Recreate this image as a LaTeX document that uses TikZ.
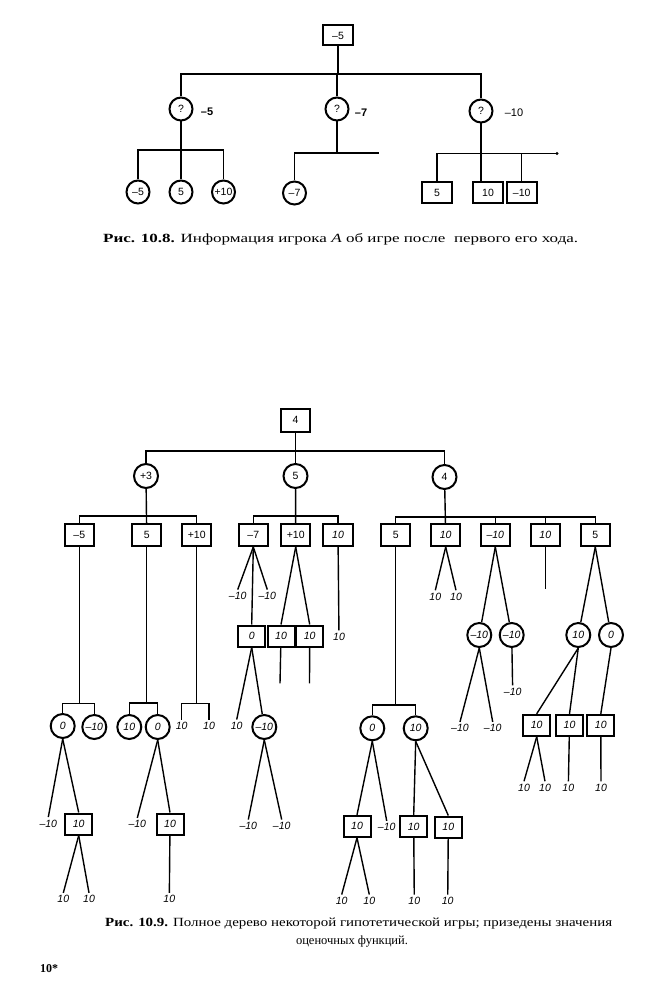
\documentclass[tikz,border=0pt]{standalone}
\usepackage{fontspec}
\usepackage{graphicx}
\setmainfont{Liberation Serif}
\newfontfamily\lab{Liberation Sans}
\newcommand\nf{\lab\fontsize{10.5}{11}\selectfont}
\newcommand\nfi{\lab\itshape\fontsize{10.5}{11}\selectfont}
\tikzset{
  ed/.style={line width=1.4pt},
  nbox/.style={draw, line width=2pt, minimum width=30pt, minimum height=20pt, inner sep=0pt, font=\nf},
  bbox/.style={nbox, minimum width=29.5pt, minimum height=22pt},
  sbox/.style={nbox, minimum width=27pt, minimum height=21pt, font=\nfi},
  ncirc/.style={draw, circle, line width=2pt, minimum size=23pt, inner sep=0pt, font=\nf},
  bcirc/.style={ncirc, minimum size=24pt},
  icirc/.style={bcirc, font=\nfi},
  lbl/.style={inner sep=2.5pt, font=\nfi},
  tlbl/.style={inner sep=1pt, font=\lab\bfseries\fontsize{11}{12}\selectfont},
  captxt/.style={inner sep=0pt, anchor=base west}
}
\begin{document}
\begin{tikzpicture}[x=1pt,y=-1pt]
\useasboundingbox (0,0) rectangle (661,1000);
% ---------- Fig 10.8 ----------
\node[nbox] (r) at (338,35.5) {–5};
\coordinate (b0) at (338,74);
\node[ncirc] (q1) at (181,109) {?};
\node[ncirc] (q2) at (337,109) {?};
\node[ncirc] (q3) at (481,111) {?};
\node[tlbl] (v1) at (207,112) {–5};
\node[tlbl] (v2) at (361,113) {–7};
\node[tlbl, font=\lab\fontsize{11}{12}\selectfont] (v3) at (514,113) {–10};
\draw[ed] (r) -- (b0);
\draw[ed] (q1) |- (b0) -| (q3);
\draw[ed] (q2) -- (q2 |- b0);
% left group
\coordinate (b1) at (181,150);
\node[ncirc] (l1) at (138,192) {–5};
\node[ncirc] (l2) at (181,192) {5};
\node[ncirc] (l3) at (223.5,192) {+10};
\draw[ed] (q1) -- (l2);
\draw[ed] (l1) |- (b1) -| (l3);
% middle group
\coordinate (b2) at (379,153);
\node[ncirc] (l4) at (294.5,193) {–7};
\draw[ed] (q2) -- (q2 |- b2);
\draw[ed] (l4) |- (b2);
% right group
\coordinate (b3) at (557,153.5);
\node[nbox, minimum height=21pt] (t1) at (437,192.5) {5};
\node[nbox, minimum height=21pt] (t2) at (488,192.5) {10};
\node[nbox, minimum height=21pt] (t3) at (521.7,192.5) {–10};
\draw[ed] (t1) |- (b3);
\draw[ed] (q3) -- (q3 |- t2.north);
\draw[ed] (t3) -- (t3 |- b3);
\fill (b3) circle (1.6pt);
\node[captxt] (cap1) at (103,242) {\resizebox{475pt}{\height}{\fontsize{12.5}{14}\selectfont\textbf{Рис. 10.8.} Информация игрока \textit{А} об игре после\ \ первого его хода.}};
% ---------- Fig 10.9 ----------
\node[bbox, minimum height=23pt] (R) at (295.5,420) {4};
\coordinate (B0) at (295.5,451);
\node[bcirc] (C1) at (146,476) {+3};
\node[bcirc] (C2) at (295.5,476) {5};
\node[bcirc] (C3) at (444.5,477) {4};
\draw[ed] (R) -- (C2);
\draw[ed] (C1) |- (B0) -| (C3);
% level 2
\node[bbox] (D1) at (79.3,535) {–5};
\node[bbox] (D2) at (146.7,535) {5};
\node[bbox] (D3) at (196.7,535) {+10};
\coordinate (B1) at (146,516);
\draw[ed] (C1) -- (D2);
\draw[ed] (D1) |- (B1) -| (D3);
\node[bbox] (D4) at (253.3,535) {–7};
\node[bbox] (D5) at (295.7,535) {+10};
\node[bbox, font=\nfi] (D6) at (338,535) {10};
\coordinate (B2) at (295.5,516);
\draw[ed] (C2) -- (D5);
\draw[ed] (D4) |- (B2) -| (D6);
\node[bbox] (D7) at (395.7,535) {5};
\node[bbox, font=\nfi] (D8) at (445.7,535) {10};
\node[bbox, font=\nfi] (D9) at (495.3,535) {–10};
\node[bbox, font=\nfi] (D10) at (545.3,535) {10};
\node[bbox] (D11) at (595.3,535) {5};
\coordinate (B3) at (444.5,517);
\draw[ed] (C3) -- (D8);
\draw[ed] (D7) |- (B3) -| (D11);
\draw[ed] (D9) -- (D9 |- B3);
\draw[ed] (D10) -- (D10 |- B3);
% D1 subtree
\coordinate (B4) at (79.3,703.3);
\node[icirc] (E1) at (62.7,726) {0};
\node[icirc] (E2) at (94.3,727) {–10};
\draw[ed] (D1) -- (B4);
\draw[ed] (E1) |- (B4) -| (E2);
\node[lbl] (F1) at (48.3,823.5) {–10};
\node[sbox] (F2) at (78.7,824) {10};
\draw[ed] (E1.south) -- (F1.north);
\draw[ed] (E1.south) -- (F2.north);
\node[lbl] (G1) at (63.3,899.3) {10};
\node[lbl] (G2) at (89,899.3) {10};
\draw[ed] (F2.south) -- (G1.north);
\draw[ed] (F2.south) -- (G2.north);
% D2 subtree
\coordinate (B5) at (146.7,703);
\node[icirc] (E3) at (129.3,727) {10};
\node[icirc] (E4) at (157.7,727) {0};
\draw[ed] (D2) -- (B5);
\draw[ed] (E3) |- (B5) -| (E4);
\node[lbl] (F3) at (137.3,824.3) {–10};
\node[sbox] (F4) at (170,824) {10};
\draw[ed] (E4.south) -- (F3.north);
\draw[ed] (E4.south) -- (F4.north);
\node[lbl] (G3) at (169.3,899.3) {10};
\draw[ed] (F4) -- (G3);
% D3 subtree
\coordinate (B6) at (196.7,703.3);
\node[lbl] (E5) at (181.7,726) {10};
\node[lbl] (E6) at (209,726) {10};
\draw[ed] (D3) -- (B6);
\draw[ed] (E5.north) |- (B6) -| (E6.north);
% D4 subtree
\node[lbl] (H1) at (237.7,596) {–10};
\node[lbl] (H2) at (267.3,596) {–10};
\node[sbox] (H3) at (251.7,636) {0};
\draw[ed] (D4.south) -- (H1.north);
\draw[ed] (D4.south) -- (H2.north);
\draw[ed] (D4.south) -- (H3.north);
\node[lbl] (I1) at (236.7,726) {10};
\node[icirc] (I2) at (264.3,727) {–10};
\draw[ed] (H3.south) -- (I1.north);
\draw[ed] (H3.south) -- (I2);
\node[lbl] (J1) at (248.3,826) {–10};
\node[lbl] (J2) at (281.7,826) {–10};
\draw[ed] (I2.south) -- (J1.north);
\draw[ed] (I2.south) -- (J2.north);
% D5 subtree
\node[sbox] (H4) at (281,636) {10};
\node[sbox] (H5) at (309.7,636) {10};
\draw[ed] (D5.south) -- (H4.north);
\draw[ed] (D5.south) -- (H5.north);
\coordinate (K1) at (280,683.3);
\coordinate (K2) at (309.5,683.3);
\draw[ed] (H4) -- (K1);
\draw[ed] (H5) -- (K2);
% D6 subtree
\node[lbl] (H6) at (339,636.7) {10};
\draw[ed] (D6) -- (H6);
% D7 subtree
\coordinate (B7) at (395.7,705);
\node[icirc] (E7) at (372.3,728.3) {0};
\node[icirc] (E8) at (415.7,728.3) {10};
\draw[ed] (D7) -- (B7);
\draw[ed] (E7) |- (B7) -| (E8);
\node[sbox] (F5) at (357,826.3) {10};
\node[lbl] (F6) at (386.7,827.3) {–10};
\draw[ed] (E7.south) -- (F5.north);
\draw[ed] (E7.south) -- (F6.north);
\node[lbl] (G4) at (341.7,901) {10};
\node[lbl] (G5) at (369.3,901) {10};
\draw[ed] (F5.south) -- (G4.north);
\draw[ed] (F5.south) -- (G5.north);
\node[sbox] (F7) at (413.7,826.7) {10};
\node[sbox] (F8) at (448.3,827) {10};
\draw[ed] (E8.south) -- (F7.north);
\draw[ed] (E8.south) -- (F8.north);
\node[lbl] (G6) at (414.3,901) {10};
\node[lbl] (G7) at (447.7,901) {10};
\draw[ed] (F7) -- (G6);
\draw[ed] (F8) -- (G7);
% D8 subtree
\node[lbl] (H7) at (435.3,596.7) {10};
\node[lbl] (H8) at (456,596.7) {10};
\draw[ed] (D8.south) -- (H7.north);
\draw[ed] (D8.south) -- (H8.north);
% D9 subtree
\node[icirc] (H9) at (479.3,635) {–10};
\node[icirc] (H10) at (511.7,635) {–10};
\draw[ed] (D9.south) -- (H9);
\draw[ed] (D9.south) -- (H10);
\node[lbl] (I3) at (460,728.3) {–10};
\node[lbl] (I4) at (492.7,728.3) {–10};
\draw[ed] (H9.south) -- (I3.north);
\draw[ed] (H9.south) -- (I4.north);
\node[lbl] (I5) at (512.7,691.7) {–10};
\draw[ed] (H10) -- (I5);
% D10
\coordinate (K3) at (545.3,589.3);
\draw[ed] (D10) -- (K3);
% D11 subtree
\node[icirc] (H11) at (578.3,635) {10};
\node[icirc] (H12) at (611,635) {0};
\draw[ed] (D11.south) -- (H11);
\draw[ed] (D11.south) -- (H12);
\node[sbox] (I6) at (536.7,725.3) {10};
\node[sbox] (I7) at (569.5,725.3) {10};
\node[sbox] (I8) at (600.8,725.3) {10};
\draw[ed] (H11.south) -- (I6.north);
\draw[ed] (H11.south) -- (I7.north);
\draw[ed] (H12.south) -- (I8.north);
\node[lbl] (J3) at (524,787.7) {10};
\node[lbl] (J4) at (545,787.7) {10};
\node[lbl] (J5) at (568.3,787.7) {10};
\node[lbl] (J6) at (601,787.7) {10};
\draw[ed] (I6.south) -- (J3.north);
\draw[ed] (I6.south) -- (J4.north);
\draw[ed] (I7) -- (J5);
\draw[ed] (I8) -- (J6);
% captions
\node[captxt] (cap2) at (105,926) {\resizebox{507pt}{\height}{\fontsize{12.5}{14}\selectfont\textbf{Рис. 10.9.} Полное дерево некоторой гипотетической игры; призедены значения}};
\node[inner sep=0pt, anchor=base] (cap3) at (352,944) {\resizebox{112pt}{\height}{\fontsize{12.5}{14}\selectfont оценочных функций.}};
\node[captxt] (pg) at (40,972) {\fontsize{12}{14}\selectfont\textbf{10*}};
\end{tikzpicture}
\end{document}
